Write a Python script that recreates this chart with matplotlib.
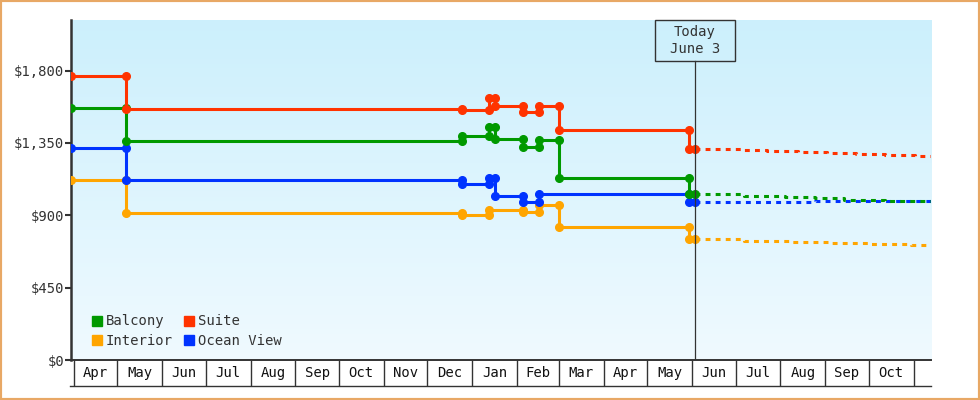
import matplotlib
matplotlib.use('Agg')
import matplotlib.pyplot as plt
import matplotlib.dates as mdates
from matplotlib.patches import Rectangle, Patch
from datetime import datetime
import numpy as np

# price history (date of change, new price)
balcony_dates = ['2023-03-30', '2023-05-07', '2023-12-25', '2024-01-13', '2024-01-17',
                 '2024-02-05', '2024-02-16', '2024-03-01', '2024-05-30']
balcony_prices = [1566, 1363, 1395, 1448, 1376, 1323, 1369, 1131, 1033]
suite_dates = ['2023-03-30', '2023-05-07', '2023-12-25', '2024-01-13', '2024-01-17',
               '2024-02-05', '2024-02-16', '2024-03-01', '2024-05-30']
suite_prices = [1767, 1560, 1555, 1630, 1578, 1541, 1578, 1431, 1311]
interior_dates = ['2023-03-30', '2023-05-07', '2023-12-25', '2024-01-13',
                  '2024-02-05', '2024-02-16', '2024-03-01', '2024-05-30']
interior_prices = [1120, 917, 905, 935, 918, 967, 830, 751]
ocean_dates = ['2023-03-30', '2023-05-07', '2023-12-25', '2024-01-13', '2024-01-17',
               '2024-02-05', '2024-02-16', '2024-05-30']
ocean_prices = [1317, 1120, 1092, 1131, 1020, 985, 1033, 980]

# forecast after today
balcony_fc_dates = ['2024-06-03', '2024-07-07', '2024-08-04', '2024-08-25', '2024-09-14', '2024-10-12']
balcony_fc = [1033, 1022, 1014, 1006, 998, 990]
suite_fc_dates = ['2024-06-03', '2024-07-06', '2024-07-23', '2024-08-13', '2024-09-02',
                  '2024-09-22', '2024-10-12', '2024-11-02']
suite_fc = [1311, 1305, 1299, 1292, 1286, 1280, 1274, 1266]
interior_fc_dates = ['2024-06-03', '2024-07-07', '2024-08-08', '2024-09-04', '2024-10-01', '2024-10-30']
interior_fc = [751, 742, 735, 728, 722, 715]
ocean_fc_dates = ['2024-06-03', '2024-08-25']
ocean_fc = [980, 988]

today = '2024-06-03'
today_label = 'Today\nJune 3'
x_start = '2023-03-30'
x_end = '2024-11-13'

month_labels = ['Apr', 'May', 'Jun', 'Jul', 'Aug', 'Sep', 'Oct', 'Nov', 'Dec', 'Jan',
                'Feb', 'Mar', 'Apr', 'May', 'Jun', 'Jul', 'Aug', 'Sep', 'Oct']
y_ticks = [0, 450, 900, 1350, 1800]
y_labels = ['$0', '$450', '$900', '$1,350', '$1,800']

colors = {'Balcony': '#009900', 'Suite': '#FF3300', 'Interior': '#FFA500', 'Ocean View': '#0033FF'}


def d(s):
    return datetime.strptime(s, '%Y-%m-%d')


def step_points(dates, prices, end):
    xs, ys = [], []
    for i, p in enumerate(prices):
        stop = dates[i + 1] if i + 1 < len(dates) else end
        xs += [d(dates[i]), d(stop)]
        ys += [p, p]
    return xs, ys


plt.rcParams['font.family'] = ['DejaVu Sans Mono']
plt.rcParams['font.size'] = 10

fig = plt.figure(figsize=(9.8, 4.0), dpi=100)
ax = fig.add_axes([71 / 980, 40 / 400, 860 / 980, 340 / 400])

# gradient background
grad = np.linspace(0, 1, 256)[:, None, None]
top = np.array([0.80, 0.94, 0.99])
bot = np.array([0.94, 0.98, 1.0])
img = top * (1 - grad) + bot * grad
ax.imshow(img, extent=[0, 1, 0, 1], transform=ax.transAxes, aspect='auto', zorder=0)

series = [
    ('Interior', interior_dates, interior_prices, interior_fc_dates, interior_fc),
    ('Ocean View', ocean_dates, ocean_prices, ocean_fc_dates, ocean_fc),
    ('Balcony', balcony_dates, balcony_prices, balcony_fc_dates, balcony_fc),
    ('Suite', suite_dates, suite_prices, suite_fc_dates, suite_fc),
]
for name, dts, prices, fdts, fc in series:
    xs, ys = step_points(dts, prices, today)
    ax.plot(xs, ys, color=colors[name], lw=2.2, marker='o', ms=5.5, zorder=3)
    fx = [d(s) for s in fdts] + [d(x_end)]
    fy = fc + [fc[-1]]
    ax.step(fx, fy, where='post', color=colors[name], lw=2.2,
            linestyle=(0, (1.6, 1.7)), zorder=2)

ax.set_xlim(d(x_start), d(x_end))
ax.set_ylim(0, 2115)

# today marker
ax.axvline(d(today), ymin=0, ymax=1 - 40.7 / 340, color='#333333', lw=0.9, zorder=4)
tr = matplotlib.transforms.blended_transform_factory(ax.transData, ax.transAxes)
box_w = 55.2
t_num = mdates.date2num(d(today))
ax.add_patch(Rectangle((t_num - box_w / 2, 1 - 40.7 / 340), box_w, 40.7 / 340,
                       transform=tr, fill=False, ec='#333333', lw=1, zorder=5, clip_on=False))
ax.text(t_num, 1 - 20.3 / 340, today_label, transform=tr, ha='center', va='center',
        linespacing=1.3, color='#333333', zorder=6)

# y axis
ax.set_yticks(y_ticks)
ax.set_yticklabels(y_labels)
ax.tick_params(axis='y', length=4, width=1.5, color='#333333', pad=1, labelcolor='#333333')

# x axis: month cells
month_starts = [datetime(2023 + (3 + i) // 12, (3 + i) % 12 + 1, 1) for i in range(len(month_labels) + 1)]
mids = [a + (b - a) / 2 for a, b in zip(month_starts[:-1], month_starts[1:])]
ax.set_xticks(month_starts, minor=True)
ax.set_xticks(mids)
ax.set_xticklabels(month_labels)
ax.tick_params(axis='x', which='minor', length=18.5, width=1.0, color='#333333')
ax.tick_params(axis='x', which='major', length=0, pad=4, labelcolor='#111111')
ax.plot([-1.5 / 860, 1], [-25.7 / 340, -25.7 / 340], transform=ax.transAxes,
        color='#333333', lw=1.0, clip_on=False)

for s in ['top', 'right']:
    ax.spines[s].set_visible(False)
ax.spines['left'].set_linewidth(1.8)
ax.spines['left'].set_color('#333333')
ax.spines['bottom'].set_linewidth(1.4)
ax.spines['bottom'].set_color('#333333')

handles = [Patch(color=colors[n]) for n in ['Balcony', 'Interior', 'Suite', 'Ocean View']]
labels = ['Balcony', 'Interior', 'Suite', 'Ocean View']
ax.legend(handles, labels, ncol=2, loc='lower left', bbox_to_anchor=(21 / 860, 12 / 340),
          frameon=False, handlelength=0.75, handleheight=0.75, handletextpad=0.25,
          columnspacing=0.8, labelspacing=0.4, borderpad=0, borderaxespad=0,
          labelcolor='#333333')

fig.patches.append(Rectangle((0, 0), 1, 1, transform=fig.transFigure, fill=False,
                             ec='#E8A865', lw=3))

fig.savefig('out.png', dpi=100)
